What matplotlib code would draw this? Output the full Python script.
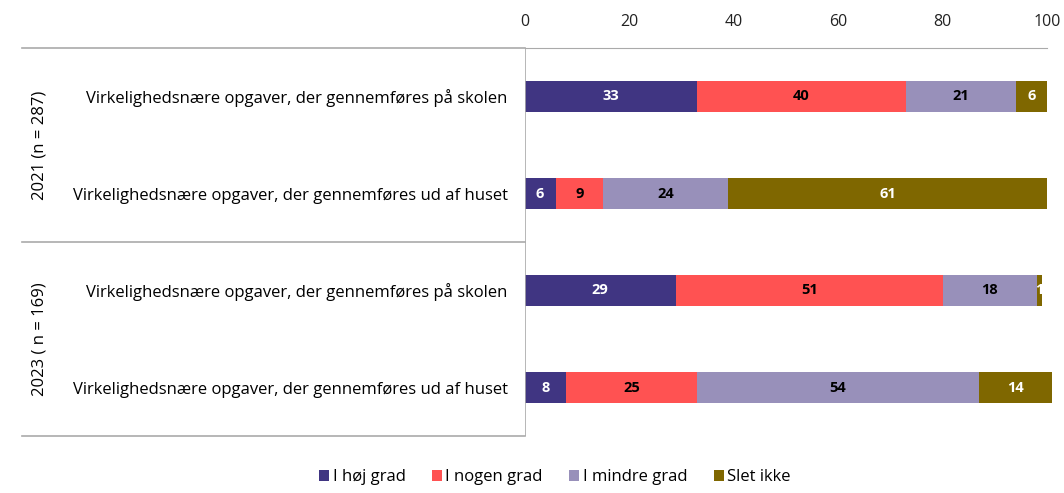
import matplotlib.pyplot as plt
import numpy as np

plt.rcParams['font.family'] = ['Open Sans', 'DejaVu Sans']

# Data
categories = [
    "Virkelighedsnære opgaver, der gennemføres på skolen",
    "Virkelighedsnære opgaver, der gennemføres ud af huset",
    "Virkelighedsnære opgaver, der gennemføres på skolen",
    "Virkelighedsnære opgaver, der gennemføres ud af huset",
]
groups = ["2021 (n = 287)", "2023 ( n = 169)"]
series_names = ["I høj grad", "I nogen grad", "I mindre grad", "Slet ikke"]
hoej = [33, 6, 29, 8]
nogen = [40, 9, 51, 25]
mindre = [21, 24, 18, 54]
slet = [6, 61, 1, 14]
ticks = [0, 20, 40, 60, 80, 100]

colors = ["#403582", "#FF5252", "#9890BA", "#7F6700"]
text_colors = ["white", "black", "black", "white"]

fig = plt.figure(figsize=(10.64, 4.93), dpi=100)
ax = fig.add_axes([524.5 / 1064, 1 - 436 / 493, 522.5 / 1064, 388 / 493])

y = np.arange(len(categories)) + 0.5
left = np.zeros(len(categories))
for vals, name, col, tcol in zip([hoej, nogen, mindre, slet], series_names, colors, text_colors):
    vals = np.array(vals, dtype=float)
    bars = ax.barh(y, vals, left=left, height=0.31, color=col, label=name)
    for b in bars:
        b.set_clip_on(False)
    for yi, l, v in zip(y, left, vals):
        ax.text(l + v / 2, yi, f"{int(v)}", ha='center', va='center',
                color=tcol, fontsize=10.5, fontweight='bold', clip_on=False)
    left += vals

ax.set_xlim(0, 100)
ax.set_ylim(4, 0)
ax.xaxis.tick_top()
ax.set_xticks(ticks)
ax.tick_params(axis='x', length=0, labelsize=11.5, colors='#222222', pad=13)
ax.set_yticks(y)
ax.set_yticklabels(categories, fontsize=12)
ax.tick_params(axis='y', length=0, pad=12)

for s in ['right', 'bottom', 'left']:
    ax.spines[s].set_visible(False)
ax.spines['top'].set_color('#AAAAAA')
ax.axvline(0, color='#AAAAAA', linewidth=1.2)

# group separators and labels
x0 = (22 - 524.5) / 522.5
for yy in [0, 2, 4]:
    ax.plot([x0, 0], [yy, yy], color='#AAAAAA', linewidth=1.2,
            transform=ax.get_yaxis_transform(), clip_on=False)
gx = (40 - 524.5) / 522.5
for g, yc in zip(groups, [1, 3]):
    ax.text(gx, yc, g, rotation=90, ha='center', va='center', fontsize=12,
            transform=ax.get_yaxis_transform(), clip_on=False)

fig.legend(loc='lower center', bbox_to_anchor=(555 / 1064, -0.015), ncol=4, frameon=False,
           fontsize=12, handlelength=0.6, handleheight=0.6, handletextpad=0.2,
           columnspacing=1.6)

fig.savefig("out.png", dpi=100)
